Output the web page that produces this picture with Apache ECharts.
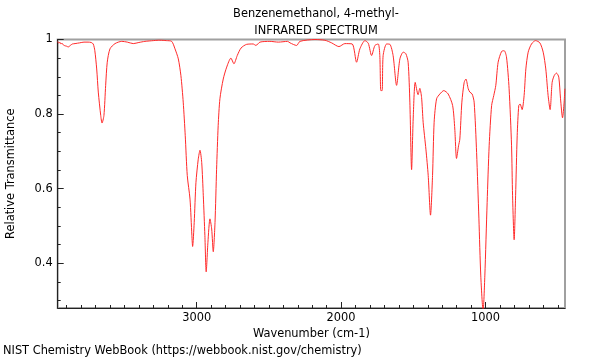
<!DOCTYPE html>
<html>
<head>
<meta charset="utf-8">
<script src="https://cdn.jsdelivr.net/npm/echarts@6/dist/echarts.min.js"></script>
<style>html,body{margin:0;padding:0;background:#fff;}#c{width:600px;height:360px;}</style>
</head>
<body>
<div id="c"></div>
<script>
const titleLines = ['Benzenemethanol, 4-methyl-', 'INFRARED SPECTRUM'];
const xName = 'Wavenumber (cm-1)';
const yName = 'Relative Transmittance';
const footer = 'NIST Chemistry WebBook (https://webbook.nist.gov/chemistry)';
const xMajorTicks = [1000, 2000, 3000];
const xMinorTicks = [500,600,700,800,900,1000,1100,1200,1300,1400,1500,1600,1700,1800,1900,2000,2100,2200,2300,2400,2500,2600,2700,2800,2900,3000,3100,3200,3300,3400,3500,3600,3700,3800,3900];
const yMajorTicks = [0.4, 0.6, 0.8, 1];
const yMinorTicks = [0.3,0.35,0.4,0.45,0.5,0.55,0.6,0.65,0.7,0.75,0.8,0.85,0.9,0.95];

const wavenumber = [3962,3955,3948,3940,3932,3922,3910,3900,3889,3875,3860,3842,3810,3780,3752,3730,3716,3705,3692,3681,3664,3655,3642,3630,3619,3600,3565,3519,3480,3439,3400,3358,3300,3266,3254,3210,3173,3150,3127,3109,3093,3079,3065,3046,3033,3028,3017,3005,2989,2977,2965,2954,2943,2934,2922,2908,2896,2885,2873,2862,2851,2839,2816,2792,2763,2742,2719,2693,2654,2608,2590,2562,2493,2435,2370,2354,2308,2285,2181,2112,2066,2015,1974,1923,1893,1870,1835,1812,1789,1766,1743,1732,1725,1716,1709,1685,1662,1640,1616,1593,1570,1552,1536,1524,1512,1501,1487,1467,1455,1443,1432,1413,1397,1381,1367,1356,1339,1316,1289,1259,1228,1213,1201,1187,1178,1164,1148,1136,1120,1109,1093,1079,1062,1046,1033,1017,1005,989,975,958,943,929,913,889,871,855,837,820,813,802,792,781,770,761,747,733,721,705,682,654,624,601,583,567,553,539,525,509,493,481,467,456,451];
const transmittance = [0.995,0.990,0.993,0.988,0.990,0.985,0.983,0.982,0.980,0.984,0.988,0.989,0.991,0.993,0.993,0.992,0.988,0.970,0.921,0.859,0.796,0.776,0.796,0.877,0.939,0.975,0.989,0.995,0.993,0.989,0.992,0.995,0.997,0.998,0.998,0.997,0.995,0.975,0.948,0.903,0.832,0.742,0.635,0.572,0.474,0.445,0.509,0.616,0.679,0.703,0.670,0.581,0.474,0.377,0.456,0.519,0.492,0.431,0.509,0.652,0.769,0.841,0.894,0.926,0.950,0.935,0.957,0.977,0.987,0.988,0.984,0.993,0.995,0.993,0.995,0.991,0.984,0.995,1.000,0.998,0.991,0.981,0.989,0.988,0.939,0.975,0.997,0.990,0.957,0.984,0.988,0.957,0.863,0.863,0.957,0.988,0.987,0.957,0.877,0.948,0.966,0.962,0.939,0.832,0.651,0.787,0.885,0.852,0.869,0.845,0.778,0.706,0.635,0.529,0.635,0.778,0.841,0.854,0.863,0.854,0.823,0.760,0.681,0.715,0.733,0.832,0.885,0.894,0.868,0.859,0.854,0.832,0.697,0.519,0.366,0.272,0.366,0.563,0.715,0.823,0.850,0.877,0.939,0.968,0.970,0.953,0.868,0.715,0.581,0.463,0.581,0.742,0.823,0.827,0.812,0.850,0.921,0.966,0.988,0.997,0.991,0.966,0.921,0.850,0.812,0.885,0.903,0.910,0.899,0.841,0.790,0.832,0.868];

const X_MIN = 450, X_MAX = 3962, Y_MIN = 0.28, Y_MAX = 1.0;
const seriesData = wavenumber.map((w, i) => [w, transmittance[i]]);
const FONT = 'DejaVu Sans';
const FS = 11.4;

const chart = echarts.init(document.getElementById('c'), null, {renderer: 'canvas'});
const axisLineStyle = {color: '#222', width: 1};
chart.setOption({
  animation: false,
  backgroundColor: '#fff',
  title: {
    text: titleLines.join('\n'),
    left: 311, top: 0, textAlign: 'center',
    textStyle: {fontFamily: FONT, fontSize: FS, fontWeight: 'normal', color: '#000', lineHeight: 17.5}
  },
  graphic: [{
    type: 'text', left: 3, top: 346,
    style: {text: footer, fontFamily: FONT, fontSize: FS, fill: '#000'}
  }],
  grid: {left: 57.7, right: 35, top: 39.5, bottom: 52, containLabel: false, outerBoundsMode: 'none',
    show: true, borderColor: '#a0a0a0', borderWidth: 2, backgroundColor: 'transparent'},
  xAxis: [{
    type: 'value', inverse: true, min: X_MIN, max: X_MAX,
    name: xName, nameLocation: 'middle', nameGap: 17,
    nameTextStyle: {fontFamily: FONT, fontSize: FS, color: '#000'},
    axisLine: {show: true, onZero: false, lineStyle: axisLineStyle},
    axisTick: {show: true, inside: true, length: 3, customValues: xMinorTicks, lineStyle: axisLineStyle},
    axisLabel: {show: true, customValues: xMajorTicks, margin: 5, fontFamily: FONT, fontSize: FS, color: '#000',
      formatter: v => String(Math.round(v))},
    splitLine: {show: false}
  }, {
    type: 'value', inverse: true, min: X_MIN, max: X_MAX, position: 'bottom',
    axisLine: {show: false},
    axisTick: {show: true, inside: true, length: 6, customValues: xMajorTicks, lineStyle: axisLineStyle},
    axisLabel: {show: false},
    splitLine: {show: false}
  }],
  yAxis: [{
    type: 'value', min: Y_MIN, max: Y_MAX,
    name: yName, nameLocation: 'middle', nameGap: 41,
    nameTextStyle: {fontFamily: FONT, fontSize: FS, color: '#000'},
    axisLine: {show: true, onZero: false, lineStyle: axisLineStyle},
    axisTick: {show: true, inside: true, length: 3, customValues: yMinorTicks, lineStyle: axisLineStyle},
    axisLabel: {show: true, customValues: yMajorTicks, margin: 5, fontFamily: FONT, fontSize: FS, color: '#000',
      formatter: v => (Math.abs(v - 1) < 1e-9 ? '1' : String(+v.toFixed(2)))},
    splitLine: {show: false}
  }, {
    type: 'value', min: Y_MIN, max: Y_MAX, position: 'left',
    axisLine: {show: false},
    axisTick: {show: true, inside: true, length: 6, customValues: yMajorTicks, lineStyle: axisLineStyle},
    axisLabel: {show: false},
    splitLine: {show: false}
  }],
  series: [{
    type: 'line', xAxisIndex: 0, yAxisIndex: 0,
    data: seriesData, showSymbol: false, smooth: 0.25, clip: true,
    lineStyle: {color: '#ff2a2a', width: 1}
  }]
});
</script>
</body>
</html>
